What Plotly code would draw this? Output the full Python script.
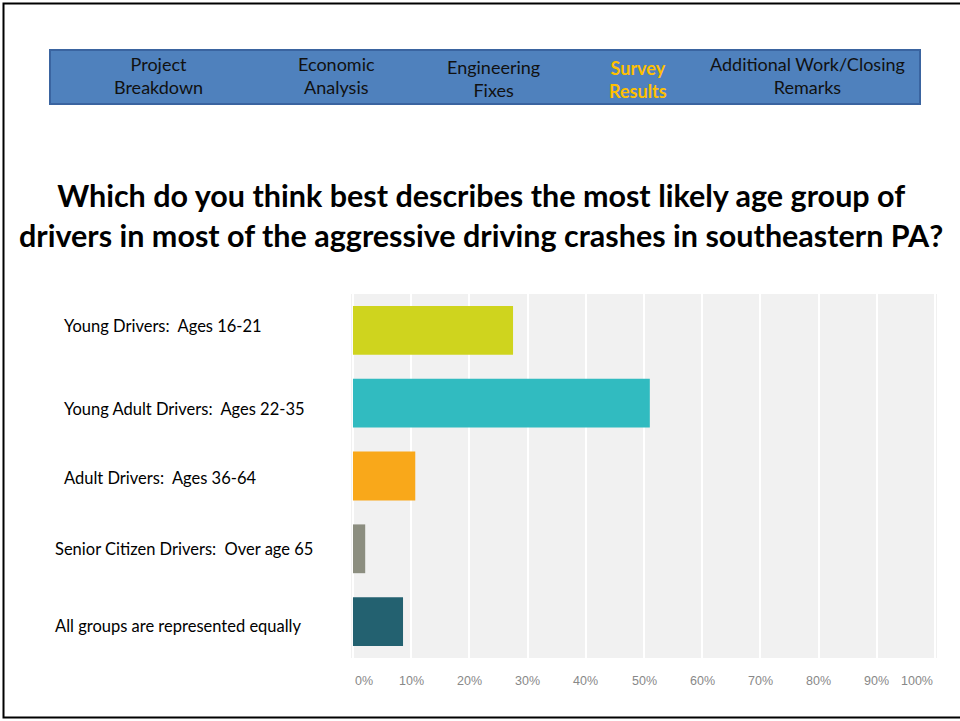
import plotly.graph_objects as go

# ---------------- data ----------------
categories = [
    "Young Drivers:  Ages 16-21",
    "Young Adult Drivers:  Ages 22-35",
    "Adult Drivers:  Ages 36-64",
    "Senior Citizen Drivers:  Over age 65",
    "All groups are represented equally",
]
percent_values = [27.5, 51.0, 10.7, 2.1, 8.6]
bar_colors = ["#cfd41e", "#31bbc0", "#f9a81a", "#8c8e80", "#236170"]
tick_values = [0, 10, 20, 30, 40, 50, 60, 70, 80, 90, 100]
tick_labels = ["0%", "10%", "20%", "30%", "40%", "50%", "60%", "70%", "80%", "90%", "100%"]

nav_items = ["Project<br>Breakdown", "Economic<br>Analysis", "Engineering<br>Fixes",
             "Survey<br>Results", "Additional Work/Closing<br>Remarks"]
nav_active = "Survey<br>Results"

title_text = ("Which do you think best describes the most likely age group of<br>"
              "drivers in most of the aggressive driving crashes in southeastern PA?")

# ---------------- layout helpers ----------------
W, H = 960, 721
def px(x):
    return x / W
def py(y):
    return 1 - y / H

fig = go.Figure()
fig.add_trace(go.Bar(
    y=categories, x=percent_values, orientation="h",
    marker=dict(color=bar_colors, line=dict(width=0)),
    width=0.67, hoverinfo="skip", showlegend=False,
))

annotations = []
shapes = []

# outer slide border
shapes.append(dict(type="rect", xref="paper", yref="paper",
                   x0=px(3.5), x1=px(975), y0=py(717.5), y1=py(3.5),
                   line=dict(color="black", width=2), fillcolor="rgba(0,0,0,0)", layer="above"))

# nav bar
shapes.append(dict(type="rect", xref="paper", yref="paper",
                   x0=px(50), x1=px(920), y0=py(104), y1=py(50),
                   line=dict(color="#3a64a0", width=2), fillcolor="#4f81bd", layer="below"))
nav_x = [158, 336, 493, 638, 807]
nav_y = [75.5, 75.5, 78.5, 79.5, 75.5]
for item, xc, yc in zip(nav_items, nav_x, nav_y):
    active = item == nav_active
    annotations.append(dict(
        text=("<b>%s</b>" % item) if active else item,
        xref="paper", yref="paper", x=px(xc), y=py(yc),
        xanchor="center", yanchor="middle", showarrow=False,
        font=dict(family="Lato", size=18, color="#ffc000" if active else "#111111"),
        align="center"))

# title
annotations.append(dict(
    text="<b>%s</b>" % title_text, xref="paper", yref="paper",
    x=px(481), y=py(215), xanchor="center", yanchor="middle", showarrow=False,
    font=dict(family="Lato", size=30.5, color="black"), align="center"))

# category labels
label_x = [62, 62, 62, 53, 53]
label_shift = [4, -6, -2, 0, -4]
for cat, lx, sh in zip(categories, label_x, label_shift):
    annotations.append(dict(
        text=cat, xref="paper", yref="y", x=px(lx), y=cat, yshift=sh,
        xanchor="left", yanchor="middle", showarrow=False,
        font=dict(family="Lato", size=16.5, color="black")))

# tick labels
for i, (tv, tl) in enumerate(zip(tick_values, tick_labels)):
    anchor = "left" if i == 0 else ("right" if i == len(tick_values) - 1 else "center")
    annotations.append(dict(
        text=tl, xref="x", yref="paper", x=tv, y=py(681),
        xanchor=anchor, yanchor="middle", showarrow=False,
        font=dict(family="Liberation Sans", size=12.5, color="#888888")))

fig.update_layout(
    width=W, height=H,
    margin=dict(l=0, r=0, t=0, b=0),
    paper_bgcolor="white",
    plot_bgcolor="#f1f1f1",
    showlegend=False,
    xaxis=dict(domain=[px(351), px(937)], range=[-0.34, 100.34],
               tickvals=tick_values, showticklabels=False,
               showgrid=True, gridcolor="#ffffff", gridwidth=1.5,
               zeroline=False, showline=False, fixedrange=True),
    yaxis=dict(domain=[py(658), py(294)], autorange="reversed",
               showticklabels=False, showgrid=False, zeroline=False,
               showline=False, fixedrange=True),
    annotations=annotations,
    shapes=shapes,
)

fig.write_html(
    "out.html",
    config={"displayModeBar": False},
    post_script="document.body.style.margin='0';document.body.style.overflow='hidden';",
)
